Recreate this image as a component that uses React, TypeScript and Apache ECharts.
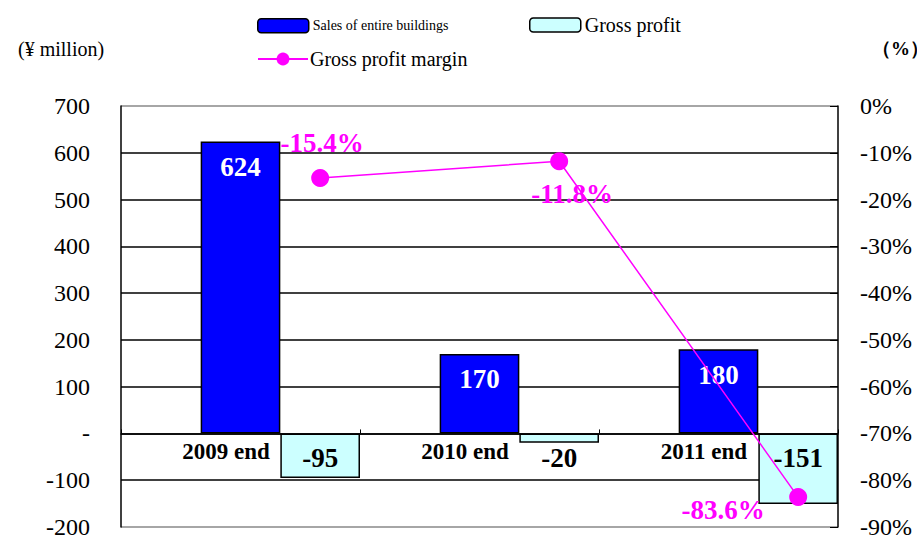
import React, { useEffect, useRef } from "react";
import * as echarts from "echarts";

const categories = ["2009 end", "2010 end", "2011 end"];
const salesValues = [624, 170, 180];
const grossProfitValues = [-95, -20, -151];
const marginValues = [-15.4, -11.8, -83.6];
const padValues = [0, 0, 0];

const leftMin = -200;
const leftMax = 700;
const leftInterval = 100;
const rightMin = -90;
const rightMax = 0;
const rightInterval = 10;

const marginLabelOffsets = [
  [2, -35],
  [13, 33],
  [-75, 13],
];

const FONT = "'Liberation Serif', 'Times New Roman', serif";

export default function App() {
  const ref = useRef<HTMLDivElement>(null);

  useEffect(() => {
    if (!ref.current) return;
    const chart = echarts.init(ref.current, undefined, { renderer: "svg" });
    const gridColors = [
      "#888888",
      "#000000",
      "#000000",
      "#000000",
      "#000000",
      "#000000",
      "#000000",
      "#000000",
      "#000000",
      "#888888",
    ];
    const option: any = {
      animation: false,
      backgroundColor: "#ffffff",
      textStyle: { fontFamily: FONT },
      grid: {
        left: 121,
        right: 79,
        top: 106,
        bottom: 10,
        containLabel: false,
        outerBoundsMode: "none",
      },
      legend: [
        {
          data: ["Sales of entire buildings"],
          left: 257,
          top: 18,
          padding: 0,
          itemWidth: 51,
          itemHeight: 14,
          textStyle: { fontFamily: FONT, fontSize: 14, color: "#000", padding: [0, 0, 0, -1] },
          itemStyle: { borderColor: "#000", borderWidth: 1.5 },
          selectedMode: false,
        },
        {
          data: ["Gross profit"],
          left: 529,
          top: 15,
          padding: 0,
          itemWidth: 51,
          itemHeight: 14,
          textStyle: { fontFamily: FONT, fontSize: 20, color: "#000", padding: [0, 0, 0, -1] },
          itemStyle: { borderColor: "#000", borderWidth: 1.5 },
          selectedMode: false,
        },
        {
          data: ["Gross profit margin"],
          left: 257,
          top: 49,
          padding: 0,
          itemWidth: 50,
          itemHeight: 16,
          textStyle: { fontFamily: FONT, fontSize: 20, color: "#000", padding: [0, 0, 0, -3] },
          selectedMode: false,
        },
      ],
      xAxis: [
        {
          type: "category",
          data: categories,
          boundaryGap: true,
          axisLine: { onZero: true, onZeroAxisIndex: 0, lineStyle: { color: "#000", width: 1.5 } },
          axisTick: { show: true, inside: true, length: 4, lineStyle: { color: "#000" } },
          axisLabel: {
            fontFamily: FONT,
            fontSize: 23,
            fontWeight: "bold",
            color: "#000",
            margin: -87,
            padding: [0, 29, 0, 0],
          },
          splitLine: { show: false },
        },
        {
          type: "value",
          min: 0,
          max: categories.length,
          show: false,
          axisLine: { onZero: false },
        },
      ],
      yAxis: [
        {
          type: "value",
          min: leftMin,
          max: leftMax,
          interval: leftInterval,
          axisLine: { show: true, onZero: false, lineStyle: { color: "#000", width: 1.5 } },
          axisTick: { show: false },
          axisLabel: {
            fontFamily: FONT,
            fontSize: 24,
            color: "#000",
            margin: 31,
            formatter: (v: number) => (v === 0 ? "-" : String(v)),
          },
          splitLine: { show: true, lineStyle: { color: gridColors, width: 1.5 } },
        },
        {
          type: "value",
          min: rightMin,
          max: rightMax,
          interval: rightInterval,
          position: "right",
          axisLine: { show: true, onZero: false, lineStyle: { color: "#000", width: 1.5 } },
          axisTick: { show: true, inside: true, length: 8, lineStyle: { color: "#000" } },
          axisLabel: {
            fontFamily: FONT,
            fontSize: 24,
            color: "#000",
            margin: 22,
            formatter: (v: number) => v + "%",
          },
          splitLine: { show: false },
        },
      ],
      series: [
        {
          name: "_pad",
          type: "bar",
          data: padValues,
          barGap: "0%",
          barCategoryGap: "0%",
          itemStyle: { color: "rgba(0,0,0,0)", borderWidth: 0 },
          silent: true,
          label: { show: false },
        },
        {
          name: "Sales of entire buildings",
          type: "bar",
          data: salesValues,
          barGap: "0%",
          barCategoryGap: "0%",
          itemStyle: { color: "#0000FF", borderColor: "#000", borderWidth: 1.5 },
          label: {
            show: true,
            position: "insideTop",
            distance: 12,
            color: "#fff",
            fontFamily: FONT,
            fontSize: 27,
            fontWeight: "bold",
          },
        },
        {
          name: "Gross profit",
          type: "bar",
          data: grossProfitValues,
          barGap: "0%",
          barCategoryGap: "0%",
          itemStyle: { color: "#CCFFFF", borderColor: "#000", borderWidth: 1.5 },
          label: {
            show: true,
            position: "insideTop",
            distance: 11,
            color: "#000",
            fontFamily: FONT,
            fontSize: 27,
            fontWeight: "bold",
          },
        },
        {
          name: "Gross profit margin",
          type: "line",
          xAxisIndex: 1,
          yAxisIndex: 1,
          data: marginValues.map((v, i) => ({
            value: [i + 5 / 6, v],
            label: {
              show: true,
              position: "inside",
              offset: marginLabelOffsets[i],
              formatter: () => v.toFixed(1) + "%",
            },
          })),
          symbol: "circle",
          symbolSize: 18,
          lineStyle: { color: "#FF00FF", width: 1.5 },
          itemStyle: { color: "#FF00FF" },
          label: {
            color: "#FF00FF",
            fontFamily: FONT,
            fontSize: 27,
            fontWeight: "bold",
          },
          z: 5,
        },
      ],
      graphic: [
        {
          type: "text",
          left: 18,
          top: 39,
          style: { text: "(¥ million)", fontFamily: FONT, fontSize: 20, fill: "#000" },
        },
        {
          type: "text",
          left: 872,
          top: 39,
          style: { text: "（%）", fontFamily: FONT, fontSize: 19, fontWeight: "bold", fill: "#000" },
        },
      ],
    };
    chart.setOption(option);
    return () => chart.dispose();
  }, []);

  return (
    <div
      ref={ref}
      style={{ position: "fixed", left: 0, top: 0, width: 917, height: 537 }}
    />
  );
}
